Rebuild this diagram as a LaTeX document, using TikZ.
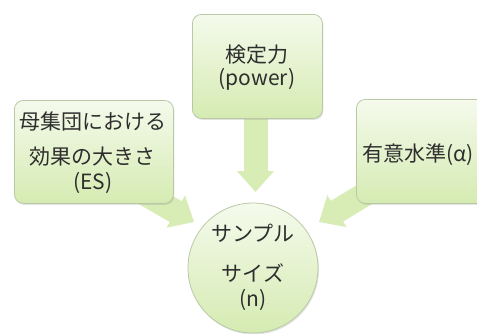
\documentclass[tikz,border=0pt]{standalone}
\usepackage{fontspec}
\setmainfont{Noto Sans CJK JP}
\usetikzlibrary{arrows.meta,shadows}
\definecolor{boxtop}{HTML}{F5FAEC}
\definecolor{boxbot}{HTML}{D5EBB2}
\definecolor{boxline}{HTML}{B9C9A6}
\definecolor{arrowc}{HTML}{D8EDB6}
\definecolor{txt}{HTML}{2E2E2E}
\tikzset{
  gbox/.style={draw=boxline, line width=0.8pt, rounded corners=9pt, top color=boxtop, bottom color=boxbot,
    drop shadow={opacity=0.22, shadow xshift=1pt, shadow yshift=-1.5pt}},
  bigarrow/.style={draw=arrowc, line width=24pt, -{Triangle[width=36pt,length=21pt]}},
  lbl/.style={text=txt, font=\fontsize{21}{24}\selectfont, inner sep=0pt}
}
\begin{document}
\begin{tikzpicture}[x=1pt,y=-1pt]
\clip (0,0) rectangle (477,333);
\fill[white] (0,0) rectangle (477,333);
% anchor coordinates
\coordinate (dstart) at (255.5,110);
\coordinate (dtip) at (255.5,192);
\coordinate (lstart) at (140,191);
\coordinate (ltip) at (194,222);
\coordinate (rstart) at (372,190);
\coordinate (rtip) at (319,222);
% arrows (behind)
\draw[bigarrow] (dstart) -- (dtip);
\draw[bigarrow] (lstart) -- (ltip);
\draw[bigarrow] (rstart) -- (rtip);
% boxes
\node[gbox, minimum width=130pt, minimum height=104pt, anchor=north west] (top) at (192,14) {};
\node[gbox, minimum width=159pt, minimum height=103pt, anchor=north west] (left) at (14,100) {};
\node[gbox, minimum width=160pt, minimum height=104pt, anchor=north west] (right) at (356,99) {};
\node[gbox, circle, rounded corners=0pt, minimum size=130pt, inner sep=0pt] (circ) at (253,268) {};
% texts
\node[lbl] (t1) at (257,55) {検定力};
\node[lbl] (t2) at (257,79) {(power)};
\node[lbl] (l1) at (93,122) {母集団における};
\node[lbl] (l2) at (93,157) {効果の大きさ};
\node[lbl] (l3) at (93,183) {(ES)};
\node[lbl, anchor=west] (r1) at (362,155) {有意水準(α)};
\node[lbl] (c1) at (253,233) {サンプル};
\node[lbl] (c2) at (253,273) {サイズ};
\node[lbl] (c3) at (253,300) {(n)};
\end{tikzpicture}
\end{document}
